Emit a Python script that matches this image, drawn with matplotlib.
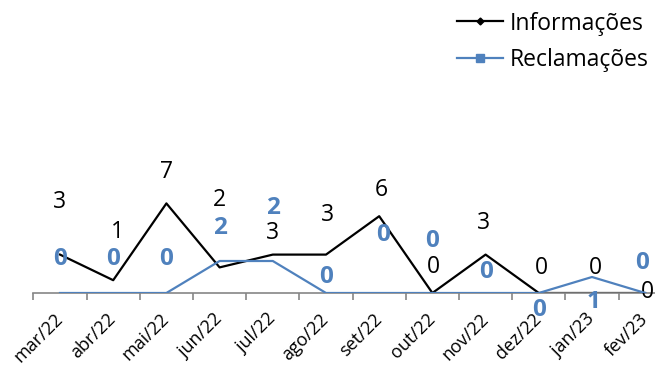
import matplotlib
matplotlib.use("Agg")
import matplotlib.pyplot as plt
from matplotlib.lines import Line2D
import numpy as np

plt.rcParams['font.family'] = ['Open Sans', 'DejaVu Sans']

meses = ['mar/22', 'abr/22', 'mai/22', 'jun/22', 'jul/22', 'ago/22',
         'set/22', 'out/22', 'nov/22', 'dez/22', 'jan/23', 'fev/23']
informacoes = [3, 1, 7, 2, 3, 3, 6, 0, 3, 0, 0, 0]
reclamacoes = [0, 0, 0, 2, 2, 0, 0, 0, 0, 0, 1, 0]

# label offsets in pixels (excel put them all over the place)
off_inf = [(0, 53), (4, 48), (0, 31), (0, 67), (0, 22), (1, 40),
           (2, 26), (1, 26), (-2, 32), (3, 25), (3, 25), (2, 1)]
off_rec = [(0, 34), (0, 34), (0, 34), (0, 33), (0, 53), (0, 16),
           (4, 58), (0, 52), (0, 21), (0, -17), (2, -25), (-3, 30)]

azul = '#4F81BD'
cinza = '#868686'
fs = 16.5

fig = plt.figure(figsize=(6.55, 3.65), dpi=100)
ax = fig.add_axes([33.4/655, 72/365, 638.4/655, 128/365])
ax2 = ax.twinx()

x = np.arange(len(meses))
ax.plot(x, informacoes, color='black', lw=1.6)
ax2.plot(x, reclamacoes, color=azul, lw=1.6)

ax.set_xlim(-0.5, 11.5)
ax.set_ylim(0, 10)
ax2.set_ylim(0, 8)

for a in (ax, ax2):
    for s in ['top', 'right', 'left']:
        a.spines[s].set_visible(False)
    a.set_yticks([])
    a.patch.set_visible(False)
ax2.spines['bottom'].set_visible(False)
ax.spines['bottom'].set_color(cinza)
ax.spines['bottom'].set_linewidth(1.2)

ax.set_xticks(x)
ax.set_xticklabels(meses, rotation=45, ha='right', va='center',
                   rotation_mode='anchor', fontsize=13)
ax.tick_params(axis='x', which='major', length=0, pad=17)
ax.set_xticks(np.arange(-0.5, 12, 1), minor=True)
ax.tick_params(axis='x', which='minor', length=5, color=cinza, width=1.2)

for i, v in enumerate(informacoes):
    ax.annotate(str(v), (x[i], v), xytext=off_inf[i], textcoords='offset pixels',
                ha='center', va='center', fontsize=fs, color='black',
                annotation_clip=False)
for i, v in enumerate(reclamacoes):
    ax2.annotate(str(v), (x[i], v), xytext=off_rec[i], textcoords='offset pixels',
                 ha='center', va='center', fontsize=fs + 1, color=azul,
                 fontweight='bold', annotation_clip=False)

handles = [Line2D([], [], color='black', lw=1.6, marker='D', markersize=3.5),
           Line2D([], [], color=azul, lw=1.6, marker='s', markersize=6)]
fig.legend(handles, ['Informações', 'Reclamações'], loc='upper right',
           bbox_to_anchor=(1.022, 1.025), frameon=False, fontsize=fs,
           handlelength=2.0, handletextpad=0.3, labelspacing=0.55)

fig.savefig('out.png', dpi=100)
